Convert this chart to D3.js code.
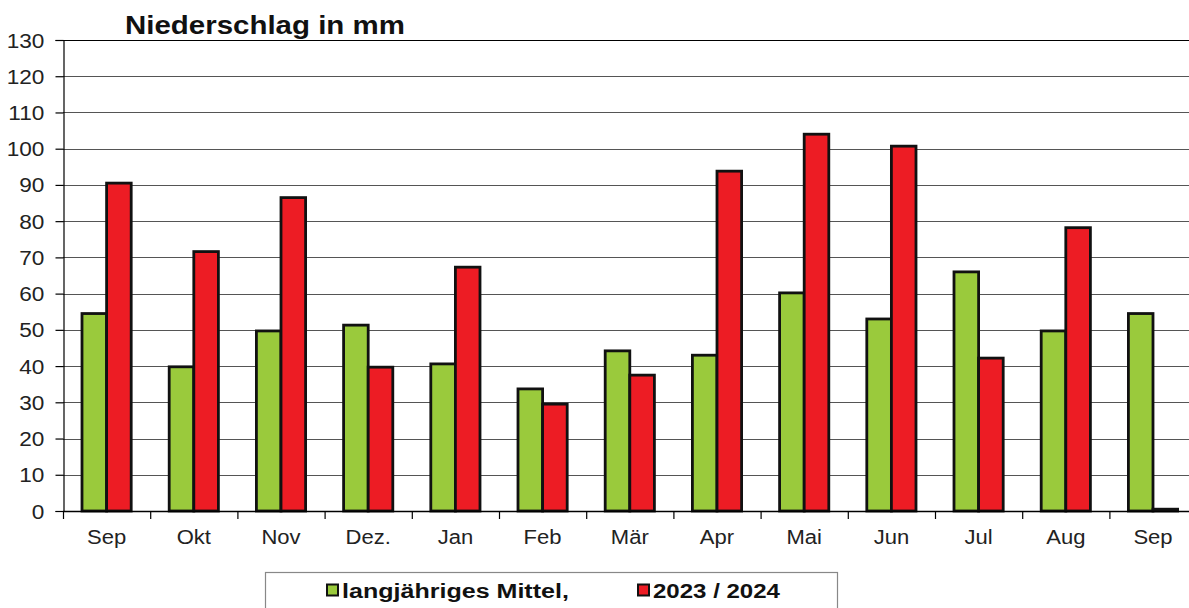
<!DOCTYPE html>
<html><head><meta charset="utf-8">
<script src="https://cdn.jsdelivr.net/npm/d3@7"></script>
<style>body{margin:0;background:#fff;overflow:hidden}svg{display:block}</style>
</head><body><svg id="c" width="1189" height="608"></svg>
<script>
const months = ["Sep","Okt","Nov","Dez.","Jan","Feb","Mär","Apr","Mai","Jun","Jul","Aug","Sep"];
const mittel = [54.5,39.8,49.7,51.3,40.6,33.7,44.2,43,60.2,53,66,49.7,54.5];
const aktuell = [90.5,71.6,86.5,39.7,67.3,29.5,37.5,93.8,104,100.7,42.2,78.2,0.5];
const yTicks = [0,10,20,30,40,50,60,70,80,90,100,110,120,130];
const seriesNames = ["langjähriges Mittel,","2023 / 2024"];
const colors = ["#9aca3c","#ed1c24"];

const svg = d3.select("#c");
const plotLeft = 63, plotTop = 40, plotBottom = 511, step = 87.2;
const x = d3.scaleBand().domain(d3.range(months.length)).range([plotLeft, plotLeft + step*months.length]).padding(0);
const y = d3.scaleLinear().domain([0,130]).range([plotBottom, plotTop]);
const inner = d3.scaleBand().domain([0,1]).range([19, step-19]).padding(0);

const font = "'Liberation Sans', Arial, sans-serif";

// grid
svg.append("g").selectAll("line").data(yTicks.filter(d=>d>0)).join("line")
  .attr("x1", plotLeft).attr("x2", 1189).attr("y1", d=>Math.round(y(d))+0.5).attr("y2", d=>Math.round(y(d))+0.5)
  .attr("stroke", d=>d===130?"#000":"#555").attr("stroke-width",1.2);

// y axis
const ya = svg.append("g").attr("transform",`translate(${plotLeft+0.5},0)`)
  .call(d3.axisLeft(y).tickValues(yTicks).tickSize(8).tickPadding(8.5));
ya.select(".domain").attr("stroke","#000").attr("stroke-width",1.2);
ya.selectAll(".tick line").attr("stroke","#000").attr("stroke-width",1.2);
ya.selectAll("text").attr("font-family",font).attr("font-size",19.5).attr("fill","#222").attr("dy","0.36em")
  .attr("transform","scale(1.16,1)");

// bars
const data = months.map((m,i)=>({i, vals:[mittel[i], aktuell[i]]}));
const groups = svg.append("g").selectAll("g").data(data).join("g")
  .attr("transform", d=>`translate(${x(d.i)},0)`);
groups.selectAll("rect").data(d=>d.vals.map((v,k)=>({v,k}))).join("rect")
  .attr("x", d=>inner(d.k)).attr("width", inner.bandwidth())
  .attr("y", d=>y(d.v)).attr("height", d=>plotBottom - y(d.v))
  .attr("fill", d=>colors[d.k]).attr("stroke","#111").attr("stroke-width",2.8);

// x axis
const xa = svg.append("g").attr("transform",`translate(0,${plotBottom+0.5})`)
  .call(d3.axisBottom(x).tickFormat(i=>months[i]).tickSize(0).tickPadding(19));
xa.select(".domain").remove();
svg.append("line").attr("x1",plotLeft).attr("x2",1189).attr("y1",plotBottom+0.5).attr("y2",plotBottom+0.5).attr("stroke","#000").attr("stroke-width",1.5);
xa.selectAll("text").attr("font-family",font).attr("font-size",19.5).attr("fill","#222")
  .attr("transform","scale(1.13,1)");
svg.append("g").selectAll("line").data(d3.range(months.length+1)).join("line")
  .attr("x1", i=>plotLeft + i*step+0.5).attr("x2", i=>plotLeft + i*step+0.5)
  .attr("y1", plotBottom).attr("y2", plotBottom+8).attr("stroke","#000").attr("stroke-width",1.2);

// title
const title = svg.append("text").attr("font-family",font).attr("font-weight","bold")
  .attr("font-size",25).attr("fill","#111").text("Niederschlag in mm");
const tw = title.node().getComputedTextLength();
title.attr("transform",`translate(125,33.5) scale(${280/tw},1)`);

// legend
svg.append("rect").attr("x",265.5).attr("y",572.5).attr("width",572).attr("height",50)
  .attr("fill","#fff").attr("stroke","#888").attr("stroke-width",1.2);
const lx = [327, 638];
const lw = [227, 127];
seriesNames.forEach((n,k)=>{
  svg.append("rect").attr("x",lx[k]).attr("y",584.5).attr("width",11).attr("height",11)
    .attr("fill",colors[k]).attr("stroke","#111").attr("stroke-width",2);
  const t = svg.append("text").attr("font-family",font).attr("font-weight","bold")
    .attr("font-size",21).attr("fill","#111").text(n);
  const w = t.node().getComputedTextLength();
  t.attr("transform",`translate(${lx[k]+15},598) scale(${lw[k]/w},1)`);
});
</script></body></html>
